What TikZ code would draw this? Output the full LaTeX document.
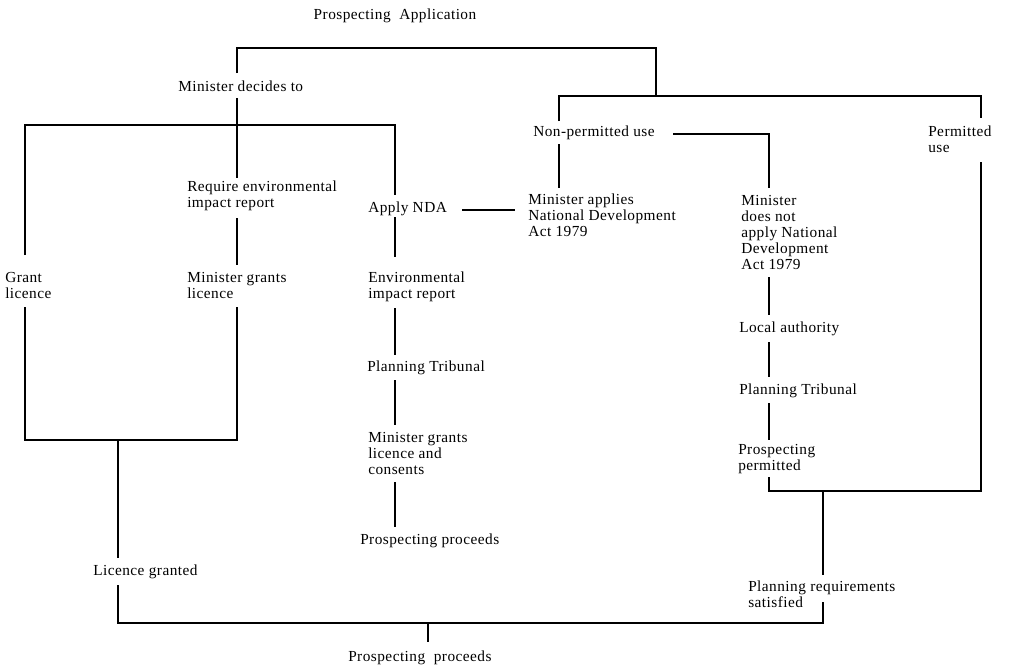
\documentclass[tikz,border=0pt]{standalone}
\usepackage{fontspec}
\setmainfont{Liberation Serif}[LetterSpace=3]
\begin{document}
\begin{tikzpicture}[x=0.75pt,y=-0.75pt,
  lbl/.style={anchor=north west,inner sep=0pt,align=left,font=\fontsize{11.5}{12}\selectfont},
  ln/.style={line width=1.3pt,line cap=butt,line join=miter}]
\useasboundingbox (0,0) rectangle (1033,665);
% ---------- texts ----------
\node[lbl,anchor=north] (app) at (395,9) {Prospecting\ \ Application};
\node[lbl] (decide) at (178,81) {Minister decides to};
\node[lbl] (nonperm) at (533,126) {Non-permitted use};
\node[lbl] (perm) at (928,126) {Permitted\\use};
\node[lbl] (reqeir) at (187,181) {Require environmental\\impact report};
\node[lbl] (nda) at (368,202) {Apply NDA};
\node[lbl] (applies) at (528,194) {Minister applies\\National Development\\Act 1979};
\node[lbl] (notapply) at (741,195) {Minister\\does not\\apply National\\Development\\Act 1979};
\node[lbl] (grant) at (5,272) {Grant\\licence};
\node[lbl] (mgrants) at (187,272) {Minister grants\\licence};
\node[lbl] (eir) at (368,272) {Environmental\\impact report};
\node[lbl] (tribC) at (367,361) {Planning Tribunal};
\node[lbl] (consent) at (368,432) {Minister grants\\licence and\\consents};
\node[lbl] (procC) at (360,534) {Prospecting proceeds};
\node[lbl] (local) at (739,322) {Local authority};
\node[lbl] (tribE) at (739,384) {Planning Tribunal};
\node[lbl] (permitted) at (738,444) {Prospecting\\permitted};
\node[lbl] (granted) at (93,565) {Licence granted};
\node[lbl] (satisfied) at (748,581) {Planning requirements\\satisfied};
\node[lbl] (procB) at (348,651) {Prospecting\ \ proceeds};
% ---------- coordinates ----------
\coordinate (a1) at (237,73);  \coordinate (a2) at (237,48);
\coordinate (a3) at (656,48);  \coordinate (a4) at (656,96);
\coordinate (r1) at (559,121); \coordinate (r2) at (559,96);
\coordinate (r3) at (981,96);  \coordinate (r4) at (981,118);
\coordinate (b1) at (237,98);  \coordinate (b2) at (237,178);
\coordinate (l1) at (25,255);  \coordinate (l2) at (25,125);
\coordinate (l3) at (395,125); \coordinate (l4) at (395,195);
\coordinate (b3) at (237,218); \coordinate (b4) at (237,265);
\coordinate (b5) at (237,307); \coordinate (b6) at (237,440);
\coordinate (l5) at (25,307);  \coordinate (l6) at (25,440);
\coordinate (g1) at (118,440); \coordinate (g2) at (118,558);
\coordinate (g3) at (118,585); \coordinate (g4) at (118,623);
\coordinate (g5) at (823,623); \coordinate (g6) at (823,602);
\coordinate (p1) at (428,623); \coordinate (p2) at (428,642);
\coordinate (c1) at (395,217); \coordinate (c2) at (395,257);
\coordinate (c3) at (395,308); \coordinate (c4) at (395,355);
\coordinate (c5) at (395,380); \coordinate (c6) at (395,425);
\coordinate (c7) at (395,482); \coordinate (c8) at (395,527);
\coordinate (n1) at (462,210); \coordinate (n2) at (515,210);
\coordinate (d1) at (559,144); \coordinate (d2) at (559,188);
\coordinate (e0) at (673,134); \coordinate (e1) at (769,134);
\coordinate (e2) at (769,188);
\coordinate (e3) at (769,277); \coordinate (e4) at (769,315);
\coordinate (e5) at (769,342); \coordinate (e6) at (769,377);
\coordinate (e7) at (769,403); \coordinate (e8) at (769,440);
\coordinate (e9) at (769,477); \coordinate (e10) at (769,491);
\coordinate (f1) at (981,491); \coordinate (f2) at (981,162);
\coordinate (s1) at (823,491); \coordinate (s2) at (823,575);
% ---------- connectors ----------
\draw[ln] (a1) -- (a2) -- (a3) -- (a4);
\draw[ln] (r1) -- (r2) -- (r3) -- (r4);
\draw[ln] (b1) -- (b2);
\draw[ln] (l1) -- (l2) -- (l3) -- (l4);
\draw[ln] (b3) -- (b4);
\draw[ln] (l5) -- (l6) -- (b6) -- (b5);
\draw[ln] (g1) -- (g2);
\draw[ln] (g3) -- (g4) -- (g5) -- (g6);
\draw[ln] (p1) -- (p2);
\draw[ln] (c1) -- (c2);
\draw[ln] (c3) -- (c4);
\draw[ln] (c5) -- (c6);
\draw[ln] (c7) -- (c8);
\draw[ln] (n1) -- (n2);
\draw[ln] (d1) -- (d2);
\draw[ln] (e0) -- (e1) -- (e2);
\draw[ln] (e3) -- (e4);
\draw[ln] (e5) -- (e6);
\draw[ln] (e7) -- (e8);
\draw[ln] (e9) -- (e10) -- (f1) -- (f2);
\draw[ln] (s1) -- (s2);
\end{tikzpicture}
\end{document}
